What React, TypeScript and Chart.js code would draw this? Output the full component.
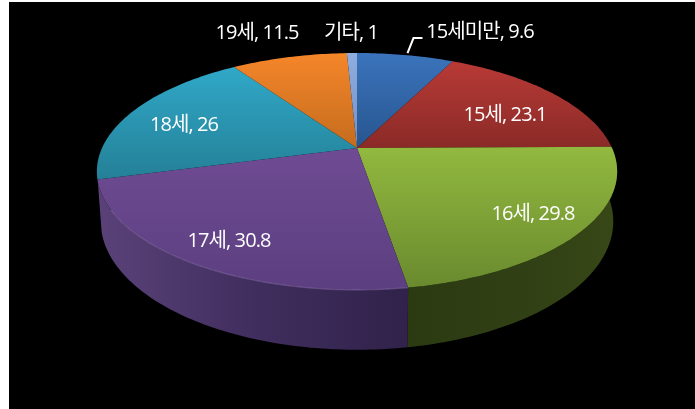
import React, { useEffect, useRef } from "react";
import { Chart, registerables } from "chart.js";

Chart.register(...registerables);

// Data
const categories = ["15세미만", "15세", "16세", "17세", "18세", "19세", "기타"];
const values = [9.6, 23.1, 29.8, 30.8, 26, 11.5, 1];

// Styles (one entry per category)
const topLight = ["#3b74bc", "#b83a36", "#92b93f", "#6f4b93", "#30a8c8", "#f5862a", "#8fadde"];
const topDark = ["#27558f", "#8a2a27", "#6a8a2e", "#5c3f80", "#248097", "#c46c1e", "#7390c4"];
const wallLeft = ["#1d3a60", "#5a1d1b", "#2c3a12", "#5a4278", "#1a5a6a", "#7a4412", "#4a5f80"];
const wallMid = ["#1d3a60", "#5a1d1b", "#303f14", "#402e5e", "#1a5a6a", "#7a4412", "#4a5f80"];
const wallRight = ["#1d3a60", "#5a1d1b", "#374716", "#30224a", "#1a5a6a", "#7a4412", "#4a5f80"];

// Label placement in picture pixels (centre of each text)
const labelCentres: [number, number][] = [
  [480, 32], [505, 115], [533, 214], [229, 241], [184, 125], [257, 33], [351, 33],
];

// Projection of the pie's plane on the picture
const APEX_X = 357;
const APEX_Y = 148;
const RX = 255;
const RY = 113.8;
const PERSP = 0.198;
const DEPTH = 48;
const BOTTOM_SHRINK = 0.985;

function top(theta: number): [number, number] {
  const u = Math.sin(theta);
  const v = Math.cos(theta);
  const d = 1 + PERSP * v;
  return [APEX_X + (RX * u) / d, APEX_Y - (RY * v) / d];
}
function bottom(theta: number): [number, number] {
  const [x, y] = top(theta);
  const d = 1 + PERSP * Math.cos(theta);
  return [APEX_X + (x - APEX_X) * BOTTOM_SHRINK, y + DEPTH / d];
}

const pie3d = {
  id: "pie3d",
  beforeDatasetsDraw(chart: any) {
    const ctx: CanvasRenderingContext2D = chart.ctx;
    const arcs = chart.getDatasetMeta(0).data as any[];
    const angle = (a: number) => a + Math.PI / 2;
    const STEP = Math.PI / 180;

    // side wall
    arcs.forEach((arc, i) => {
      const s = Math.max(angle(arc.startAngle), Math.PI * 0.5);
      const e = Math.min(angle(arc.endAngle), Math.PI * 1.41);
      if (e <= s) return;
      const n = Math.ceil((e - s) / STEP);
      ctx.beginPath();
      for (let k = 0; k <= n; k++) {
        const p = top(s + ((e - s) * k) / n);
        k ? ctx.lineTo(p[0], p[1]) : ctx.moveTo(p[0], p[1]);
      }
      for (let k = n; k >= 0; k--) {
        const p = bottom(s + ((e - s) * k) / n);
        ctx.lineTo(p[0], p[1]);
      }
      ctx.closePath();
      const a = top(s);
      const b = top(e);
      const g = ctx.createLinearGradient(Math.min(a[0], b[0]), 0, Math.max(a[0], b[0]), 0);
      g.addColorStop(0, wallLeft[i]);
      g.addColorStop(0.5, wallMid[i]);
      g.addColorStop(1, wallRight[i]);
      ctx.fillStyle = g;
      ctx.fill();
    });

    // top faces
    arcs.forEach((arc, i) => {
      const s = angle(arc.startAngle);
      const e = angle(arc.endAngle);
      const n = Math.max(2, Math.ceil((e - s) / STEP));
      ctx.beginPath();
      ctx.moveTo(APEX_X, APEX_Y);
      let minY = APEX_Y;
      let maxY = APEX_Y;
      for (let k = 0; k <= n; k++) {
        const p = top(s + ((e - s) * k) / n);
        ctx.lineTo(p[0], p[1]);
        minY = Math.min(minY, p[1]);
        maxY = Math.max(maxY, p[1]);
      }
      ctx.closePath();
      const g = ctx.createLinearGradient(0, minY, 0, maxY);
      g.addColorStop(0, topLight[i]);
      g.addColorStop(1, topDark[i]);
      ctx.fillStyle = g;
      ctx.fill();
    });

    // bevel highlight along the front edge of the largest slice
    const big = arcs[3];
    const hs = angle(big.startAngle);
    const he = angle(big.endAngle) - 0.25;
    const hn = Math.ceil((he - hs) / STEP);
    ctx.beginPath();
    for (let k = 0; k <= hn; k++) {
      const p = top(hs + ((he - hs) * k) / hn);
      k ? ctx.lineTo(p[0], p[1]) : ctx.moveTo(p[0], p[1]);
    }
    ctx.strokeStyle = "rgba(170,140,205,0.35)";
    ctx.lineWidth = 1.2;
    ctx.stroke();

    // leader line of the first label
    const first = arcs[0];
    const mid = top((angle(first.startAngle) + angle(first.endAngle)) / 2);
    ctx.beginPath();
    ctx.moveTo(mid[0] + 2, mid[1] - 2);
    ctx.lineTo(mid[0] + 8, mid[1] - 17);
    ctx.lineTo(mid[0] + 17, mid[1] - 17);
    ctx.strokeStyle = "#ffffff";
    ctx.lineWidth = 2;
    ctx.stroke();

    // labels
    ctx.fillStyle = "#ffffff";
    ctx.font = '20px "Open Sans", "Noto Sans CJK KR", sans-serif';
    (ctx as any).letterSpacing = "-0.9px";
    ctx.textAlign = "center";
    ctx.textBaseline = "middle";
    categories.forEach((c, i) => {
      ctx.fillText(`${c}, ${values[i]}`, labelCentres[i][0], labelCentres[i][1]);
    });
    (ctx as any).letterSpacing = "0px";
    return false;
  },
};

const backdrop = {
  id: "backdrop",
  beforeDraw(chart: any) {
    const ctx: CanvasRenderingContext2D = chart.ctx;
    ctx.fillStyle = "#ffffff";
    ctx.fillRect(0, 0, 695, 409);
    ctx.fillStyle = "#000000";
    ctx.fillRect(9, 2, 686, 407);
  },
};

export default function App() {
  const ref = useRef<HTMLCanvasElement>(null);
  useEffect(() => {
    const chart = new Chart(ref.current!, {
      type: "pie",
      data: {
        labels: categories,
        datasets: [{ data: values, backgroundColor: topLight, borderWidth: 0 }],
      },
      options: {
        responsive: false,
        animation: false,
        plugins: { legend: { display: false }, tooltip: { enabled: false } },
      },
      plugins: [backdrop, pie3d],
    });
    return () => chart.destroy();
  }, []);
  return (
    <div style={{ position: "fixed", left: 0, top: 0, width: 695, height: 409 }}>
      <canvas ref={ref} width={695} height={409} style={{ display: "block" }} />
    </div>
  );
}
